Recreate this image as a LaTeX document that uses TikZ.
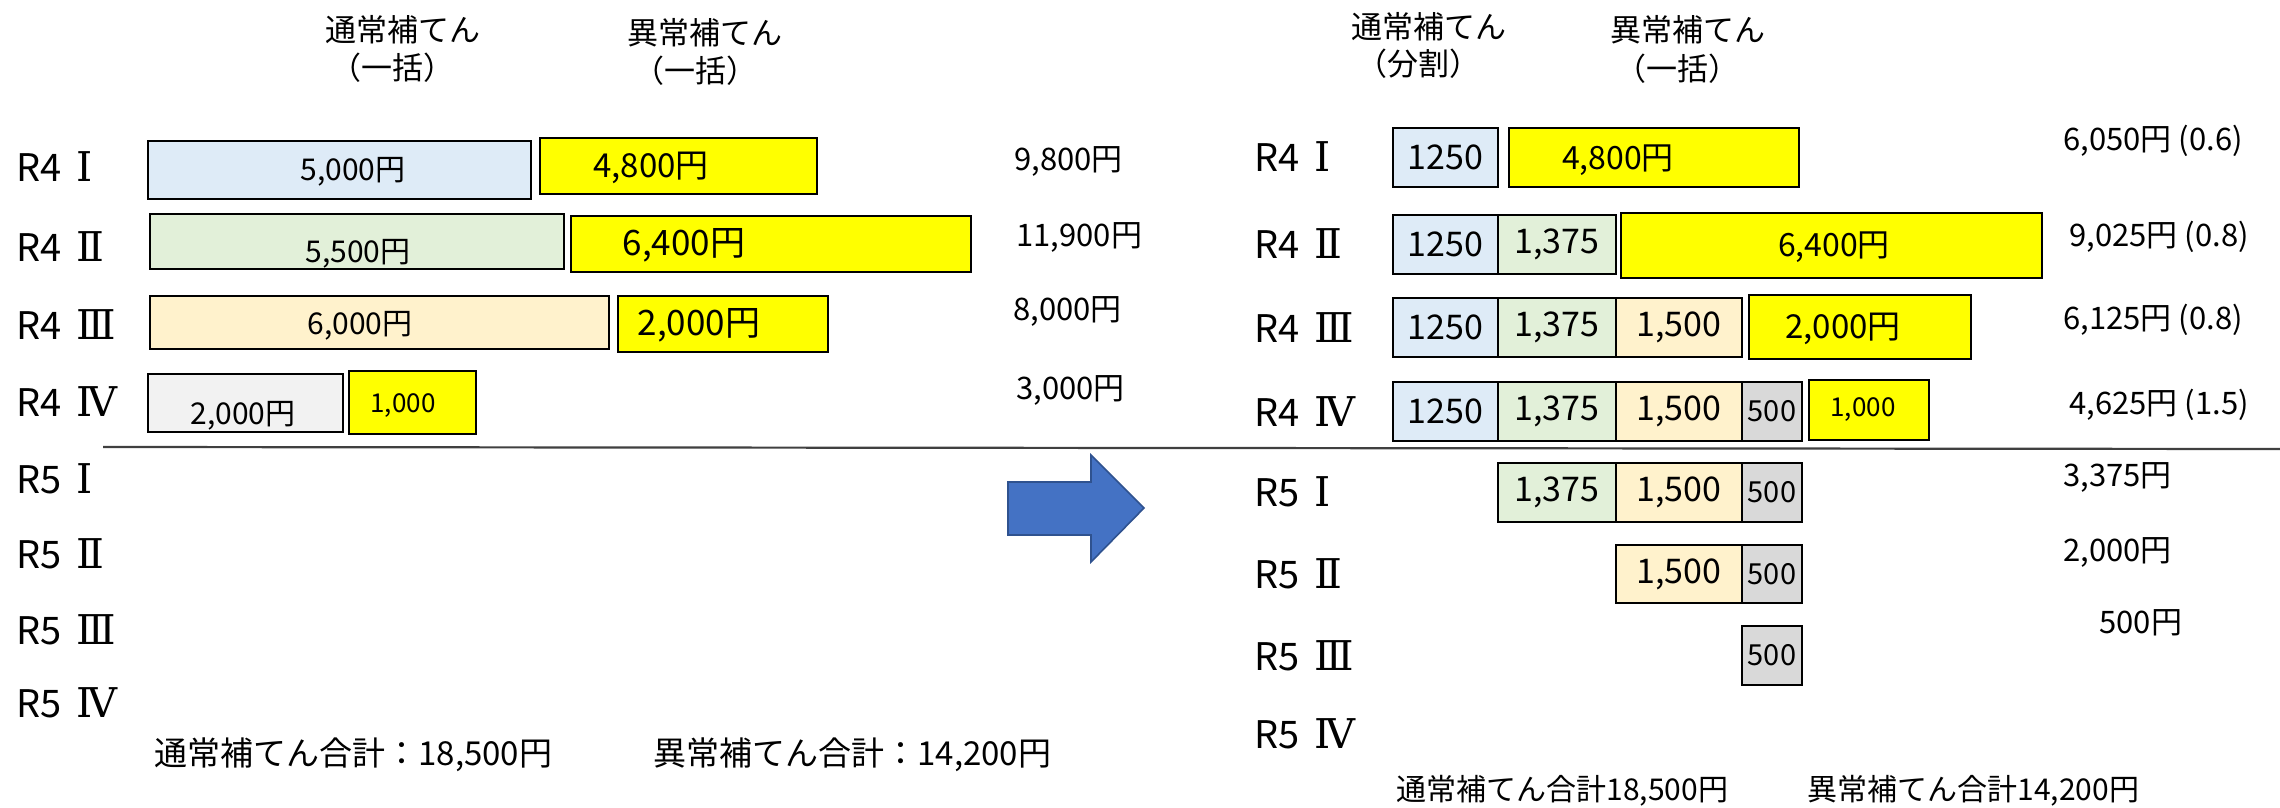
\documentclass[tikz,border=0pt]{standalone}
\usepackage{fontspec}
\setmainfont{Noto Sans CJK JP}
\newfontfamily\romnum{DejaVu Serif}
\usetikzlibrary{fit}
\definecolor{cBlue}{HTML}{DEEBF7}
\definecolor{cGreen}{HTML}{E2F0D9}
\definecolor{cCream}{HTML}{FFF2CC}
\definecolor{cGrayL}{HTML}{F2F2F2}
\definecolor{cGrayR}{HTML}{D9D9D9}
\definecolor{cYel}{HTML}{FFFF00}
\definecolor{cArrow}{HTML}{4472C4}
\definecolor{cArrowB}{HTML}{2F528F}
\definecolor{cLine}{HTML}{404040}
\newcommand\rlab[2]{R#1\hspace{0.4em}{\romnum\fontsize{20.5}{22}\selectfont #2}}
\tikzset{
  box/.style={draw=black, line width=1.3pt, inner sep=0pt, rectangle},
  seg/.style={draw=black, line width=0.9pt, inner sep=0pt, rectangle},
  rowlab/.style={anchor=west, inner sep=0pt, font=\fontsize{19}{22}\selectfont},
  hdr/.style={inner sep=0pt, font=\fontsize{15.5}{18}\selectfont},
  val/.style={anchor=west, inner sep=0pt, font=\fontsize{15.5}{18}\selectfont},
  btxt/.style={inner sep=0pt, font=\fontsize{15}{18}\selectfont},
  rtxt/.style={inner sep=0pt, font=\fontsize{17}{20}\selectfont},
  total/.style={anchor=west, inner sep=0pt},
}
\begin{document}
\begin{tikzpicture}[x=0.5pt,y=-0.5pt]
\useasboundingbox (0,0) rectangle (2280,808);
% ---------- left headers
\node[hdr] (lh1a) at (403,30) {通常補てん};
\node[hdr] (lh1b) at (392,68) {（一括）};
\node[hdr] (lh2a) at (705,33) {異常補てん};
\node[hdr] (lh2b) at (695,71) {（一括）};
% ---------- left row labels
\node[rowlab] (lr1) at (16,167) {\rlab{4}{Ⅰ}};
\node[rowlab] (lr2) at (16,247) {\rlab{4}{Ⅱ}};
\node[rowlab] (lr3) at (16,325) {\rlab{4}{Ⅲ}};
\node[rowlab] (lr4) at (16,402) {\rlab{4}{Ⅳ}};
\node[rowlab] (lr5) at (16,479) {\rlab{5}{Ⅰ}};
\node[rowlab] (lr6) at (16,554) {\rlab{5}{Ⅱ}};
\node[rowlab] (lr7) at (16,630) {\rlab{5}{Ⅲ}};
\node[rowlab] (lr8) at (16,703) {\rlab{5}{Ⅳ}};
% ---------- left boxes
\node[box, fill=cBlue, fit={(148,141) (531,199)}] (lb1) {};
\node[box, fill=cYel, fit={(540,138) (817,194)}] (ly1) {};
\node[box, fill=cGreen, fit={(150,214) (564,269)}] (lb2) {};
\node[box, fill=cYel, fit={(571,216) (971,272)}] (ly2) {};
\node[box, fill=cCream, fit={(150,296) (609,349)}] (lb3) {};
\node[box, fill=cYel, fit={(618,296) (828,352)}] (ly3) {};
\node[box, fill=cGrayL, fit={(148,374) (343,432)}] (lb4) {};
\node[box, fill=cYel, fit={(349,371) (476,434)}] (ly4) {};
\node[btxt] (lt1) at (353,172) {5,000円};
\node[btxt, font=\fontsize{16.5}{19}\selectfont] (lu1) at (651,168) {4,800円};
\node[btxt] (lt2) at (358,254) {5,500円};
\node[btxt, font=\fontsize{17.5}{20}\selectfont] (lu2) at (684,245) {6,400円};
\node[btxt] (lt3) at (360,326) {6,000円};
\node[btxt, font=\fontsize{17.5}{20}\selectfont] (lu3) at (699,325) {2,000円};
\node[btxt] (lt4) at (243,416) {2,000円};
\node[btxt, font=\fontsize{13}{15}\selectfont] (lu4) at (403,406) {1,000};
% ---------- left values
\node[val] (lv1) at (1014,161) {9,800円};
\node[val] (lv2) at (1016,237) {11,900円};
\node[val] (lv3) at (1013,311) {8,000円};
\node[val] (lv4) at (1016,390) {3,000円};
% ---------- divider
\coordinate (divL) at (103,447);
\coordinate (divR) at (2280,449);
\draw[cLine, line width=1.1pt] (divL) -- (divR);
% ---------- left totals
\node[total, font=\fontsize{16.5}{19}\selectfont] (ltot1) at (154,755) {通常補てん合計：18,500円};
\node[total, font=\fontsize{16.5}{19}\selectfont] (ltot2) at (653,755) {異常補てん合計：14,200円};
% ---------- block arrow
\draw[fill=cArrow, draw=cArrowB, line width=0.8pt]
  (1008,482) -- (1091,482) -- (1091,455) -- (1144,508) -- (1091,562) -- (1091,535) -- (1008,535) -- cycle;
% ---------- right headers
\node[hdr] (rh1a) at (1429,27) {通常補てん};
\node[hdr] (rh1b) at (1418,64) {（分割）};
\node[hdr] (rh2a) at (1688,30) {異常補てん};
\node[hdr] (rh2b) at (1677,69) {（一括）};
% ---------- right row labels
\node[rowlab] (rr1) at (1254,157) {\rlab{4}{Ⅰ}};
\node[rowlab] (rr2) at (1254,244) {\rlab{4}{Ⅱ}};
\node[rowlab] (rr3) at (1254,328) {\rlab{4}{Ⅲ}};
\node[rowlab] (rr4) at (1254,412) {\rlab{4}{Ⅳ}};
\node[rowlab] (rr5) at (1254,492) {\rlab{5}{Ⅰ}};
\node[rowlab] (rr6) at (1254,574) {\rlab{5}{Ⅱ}};
\node[rowlab] (rr7) at (1254,656) {\rlab{5}{Ⅲ}};
\node[rowlab] (rr8) at (1254,734) {\rlab{5}{Ⅳ}};
% ---------- right row R4 I
\node[seg, fill=cBlue, fit={(1393,128) (1498,187)}] (a1) {};
\node[rtxt] at (a1.center) {1250};
\node[box, fit={(1393,128) (1498,187)}] (a1o) {};
\node[box, fill=cYel, fit={(1509,128) (1799,187)}] (ay1) {};
\node[btxt, font=\fontsize{16}{19}\selectfont] (ayt1) at (1618,160) {4,800円};
% ---------- right row R4 II
\node[seg, fill=cBlue, fit={(1393,215) (1498,274)}] (b1) {};
\node[seg, fill=cGreen, fit={(1498,215) (1616,274)}] (b2) {};
\node[rtxt] at (b1.center) {1250};
\node[rtxt] at (b2.center) {1,375};
\node[box, fit={(1393,215) (1616,274)}] (bo) {};
\node[box, fill=cYel, fit={(1621,213) (2042,278)}] (by1) {};
\node[btxt, font=\fontsize{16}{19}\selectfont] (byt1) at (1834,247) {6,400円};
% ---------- right row R4 III
\node[seg, fill=cBlue, fit={(1393,298) (1498,357)}] (c1) {};
\node[seg, fill=cGreen, fit={(1498,298) (1616,357)}] (c2) {};
\node[seg, fill=cCream, fit={(1616,298) (1742,357)}] (c3) {};
\node[rtxt] at (c1.center) {1250};
\node[rtxt] at (c2.center) {1,375};
\node[rtxt] at (c3.center) {1,500};
\node[box, fit={(1393,298) (1742,357)}] (co) {};
\node[box, fill=cYel, fit={(1749,295) (1971,359)}] (cy1) {};
\node[btxt, font=\fontsize{16.5}{19}\selectfont] (cyt1) at (1843,329) {2,000円};
% ---------- right row R4 IV
\node[seg, fill=cBlue, fit={(1393,382) (1498,441)}] (d1) {};
\node[seg, fill=cGreen, fit={(1498,382) (1616,441)}] (d2) {};
\node[seg, fill=cCream, fit={(1616,382) (1742,441)}] (d3) {};
\node[seg, fill=cGrayR, fit={(1742,382) (1802,441)}] (d4) {};
\node[rtxt] at (d1.center) {1250};
\node[rtxt] at (d2.center) {1,375};
\node[rtxt] at (d3.center) {1,500};
\node[rtxt, font=\fontsize{14.5}{17}\selectfont] at (d4.center) {500};
\node[box, fit={(1393,382) (1802,441)}] (do) {};
\node[box, fill=cYel, fit={(1809,380) (1929,440)}] (dy1) {};
\node[btxt, font=\fontsize{13}{15}\selectfont] (dyt1) at (1863,410) {1,000};
% ---------- right row R5 I
\node[seg, fill=cGreen, fit={(1498,463) (1616,522)}] (e2) {};
\node[seg, fill=cCream, fit={(1616,463) (1742,522)}] (e3) {};
\node[seg, fill=cGrayR, fit={(1742,463) (1802,522)}] (e4) {};
\node[rtxt] at (e2.center) {1,375};
\node[rtxt] at (e3.center) {1,500};
\node[rtxt, font=\fontsize{14.5}{17}\selectfont] at (e4.center) {500};
\node[box, fit={(1498,463) (1802,522)}] (eo) {};
% ---------- right row R5 II
\node[seg, fill=cCream, fit={(1616,545) (1742,603)}] (f3) {};
\node[seg, fill=cGrayR, fit={(1742,545) (1802,603)}] (f4) {};
\node[rtxt] at (f3.center) {1,500};
\node[rtxt, font=\fontsize{14.5}{17}\selectfont] at (f4.center) {500};
\node[box, fit={(1616,545) (1802,603)}] (fo) {};
% ---------- right row R5 III
\node[box, fill=cGrayR, fit={(1742,626) (1802,685)}] (g4) {};
\node[rtxt, font=\fontsize{14.5}{17}\selectfont] at (g4.center) {500};
% ---------- right values
\node[val] (rv1) at (2063,141) {6,050円 (0.6)};
\node[val] (rv2) at (2069,237) {9,025円 (0.8)};
\node[val] (rv3) at (2063,320) {6,125円 (0.8)};
\node[val] (rv4) at (2069,405) {4,625円 (1.5)};
\node[val] (rv5) at (2063,477) {3,375円};
\node[val] (rv6) at (2063,552) {2,000円};
\node[val] (rv7) at (2099,623) {500円};
% ---------- right totals
\node[total, font=\fontsize{15}{18}\selectfont] (rtot1) at (1396,791) {通常補てん合計18,500円};
\node[total, font=\fontsize{15}{18}\selectfont] (rtot2) at (1807,791) {異常補てん合計14,200円};
\end{tikzpicture}
\end{document}
